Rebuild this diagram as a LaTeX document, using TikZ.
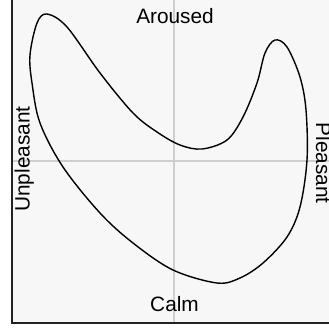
\documentclass[tikz,border=0pt]{standalone}
\usepackage{fontspec}
\setmainfont{Liberation Sans}
\usepackage{xcolor}
\definecolor{panel}{HTML}{F7F7F7}
\definecolor{axisgray}{HTML}{CECECE}
\definecolor{frame}{HTML}{222222}

\begin{document}
\begin{tikzpicture}[
  x=1pt, y=-1pt,
  axisline/.style={draw=axisgray, line width=2pt},
  frameline/.style={draw=frame, line width=1.5pt},
  pole/.style={font=\fontsize{20.8}{25}\selectfont, inner sep=0pt, anchor=base},
  mood/.style={draw=black, line width=1.4pt}
]
\useasboundingbox (0,0) rectangle (329,329);
\fill[panel] (12,0) rectangle (329,323);

% axes
\draw[axisline] (174,0) -- (174,323);
\draw[axisline] (12,161) -- (329,161);

% frame (left and bottom only)
\draw[frameline] (12,0) -- (12,323) -- (329,323);

% pole labels
\node[pole] (aroused) at (175,24) {Aroused};
\node[pole] (calm) at (174.5,311.5) {Calm};
\node[pole, rotate=90] (unpleasant) at (29.5,159) {Unpleasant};
\node[pole, rotate=-90] (pleasant) at (316,163) {Pleasant};

% emotion region
\draw[mood] plot[smooth cycle, tension=0.55] coordinates {
  (47,14) (67,27) (100,73) (133,113) (157,132) (180,145) (202,149)
  (227,140) (243,117) (257,83) (265,53) (275,40) (287,47) (300,77)
  (306,110) (307,160) (300,207) (287,237) (263,263) (240,278) (217,283)
  (173,270) (133,243) (100,213) (63,167) (40,123) (32,83) (30,55) (37,23)
};
\end{tikzpicture}
\end{document}
